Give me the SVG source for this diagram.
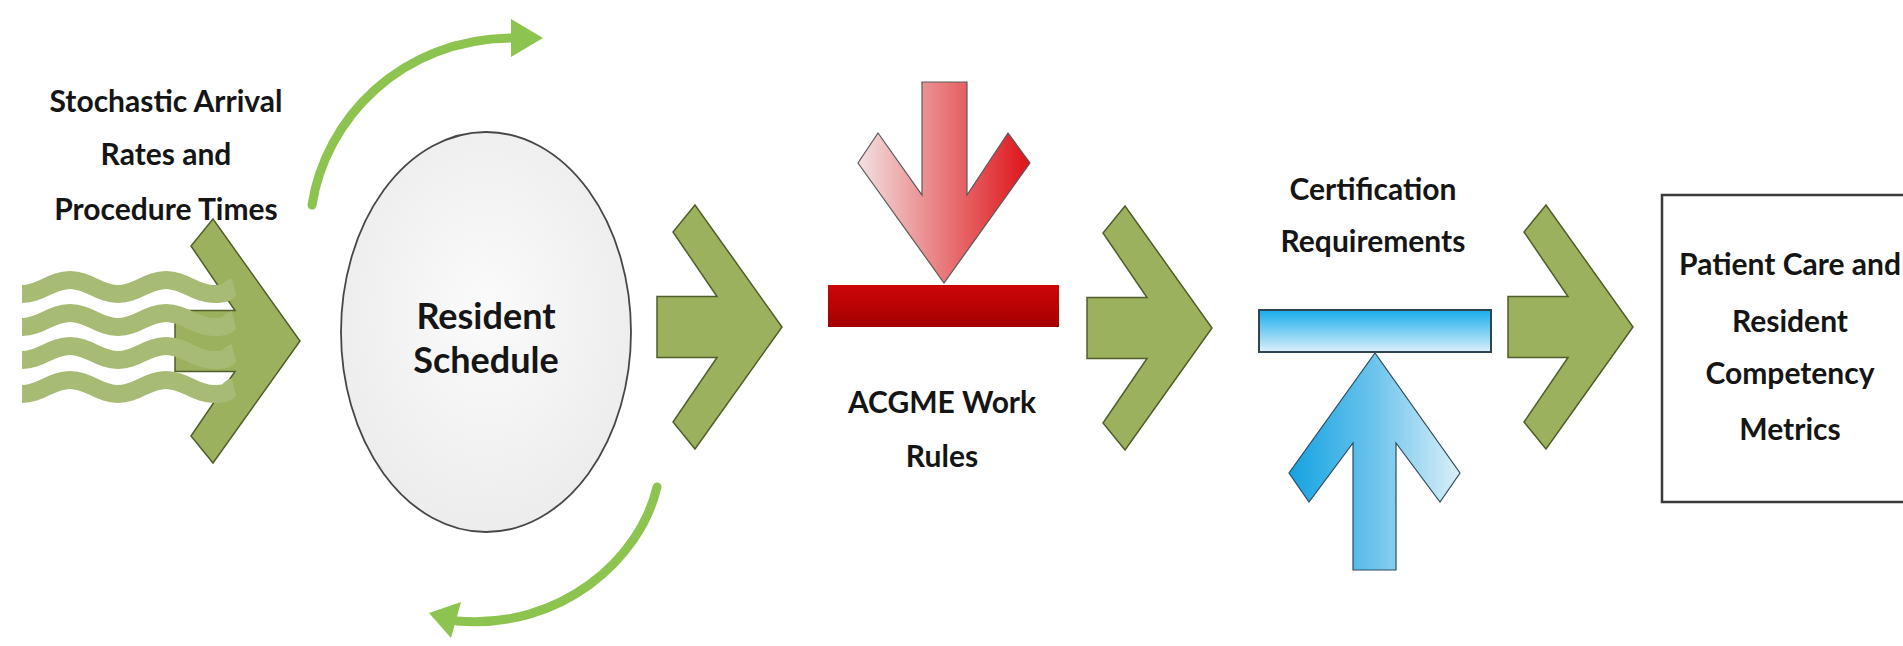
<svg xmlns="http://www.w3.org/2000/svg" xmlns:xlink="http://www.w3.org/1999/xlink" width="1903" height="646" viewBox="0 0 1903 646">
  <style>
    .lbl { font-family: Lato, "Liberation Sans", sans-serif; font-weight: 700; font-size: 30px; fill: #151515; text-anchor: middle; }
    .big { font-size: 36px; }
    .chev { fill: #9cb15d; stroke: #4f5e2a; stroke-width: 1.5; }
    .wave { fill: none; stroke: #a8bb74; stroke-width: 18; }
    .cyc { fill: none; stroke: #8dc34f; stroke-width: 9; stroke-linecap: round; }
    .cych { fill: #8dc34f; }
  </style>
  <defs>
    <!-- notched right arrow, tip at origin -->
    <path id="chevron" d="M-125,-30.5 L-65,-30.5 L-109,-95 L-87,-122 L0,0 L-87,122 L-109,95 L-65,30.5 L-125,30.5 Z"/>
    <radialGradient id="discFill" cx="0.5" cy="0.45" r="0.6">
      <stop offset="0" stop-color="#fbfbfb"/>
      <stop offset="1" stop-color="#ebebeb"/>
    </radialGradient>
    <linearGradient id="redArrowFill" x1="858" y1="0" x2="1030" y2="0" gradientUnits="userSpaceOnUse">
      <stop offset="0" stop-color="#f3e1e1"/>
      <stop offset="0.5" stop-color="#e8797b"/>
      <stop offset="1" stop-color="#de1218"/>
    </linearGradient>
    <linearGradient id="redBarFill" x1="0" y1="0" x2="0" y2="1">
      <stop offset="0" stop-color="#cc0608"/>
      <stop offset="1" stop-color="#a50000"/>
    </linearGradient>
    <linearGradient id="blueArrowFill" x1="1289" y1="0" x2="1460" y2="0" gradientUnits="userSpaceOnUse">
      <stop offset="0" stop-color="#14a2e2"/>
      <stop offset="0.5" stop-color="#6cc4ec"/>
      <stop offset="1" stop-color="#dbeff8"/>
    </linearGradient>
    <linearGradient id="blueBarFill" x1="0" y1="0" x2="0" y2="1">
      <stop offset="0" stop-color="#17aceb"/>
      <stop offset="1" stop-color="#dcf0f9"/>
    </linearGradient>
  </defs>

  <rect x="0" y="0" width="1903" height="646" fill="#ffffff"/>

  <!-- input: stochastic arrivals -->
  <g id="arrivals">
    <text class="lbl" x="166" y="112">Stochastic Arrival</text>
    <text class="lbl" x="166" y="165">Rates and</text>
    <text class="lbl" x="166" y="220">Procedure Times</text>
  </g>

  <!-- central schedule disc -->
  <g id="schedule">
    <ellipse cx="486" cy="332" rx="145" ry="200" fill="url(#discFill)" stroke="#474747" stroke-width="1.8"/>
    <text class="lbl big" x="486" y="329">Resident</text>
    <text class="lbl big" x="486" y="373">Schedule</text>
  </g>

  <!-- work-rule constraint pressing down -->
  <g id="acgme">
    <polygon points="922,82 967,82 967,195 1008,133 1030,163 944,283 858,163 878,133 922,195" fill="url(#redArrowFill)" stroke="#5a5a5a" stroke-width="1.2"/>
    <rect x="828" y="285" width="231" height="42" fill="url(#redBarFill)"/>
    <text class="lbl" x="942" y="413">ACGME Work</text>
    <text class="lbl" x="942" y="467">Rules</text>
  </g>

  <!-- certification constraint pushing up -->
  <g id="certification">
    <text class="lbl" x="1373" y="200">Certification</text>
    <text class="lbl" x="1373" y="252">Requirements</text>
    <rect x="1259" y="310" width="232" height="42" fill="url(#blueBarFill)" stroke="#2f4652" stroke-width="2"/>
    <polygon points="1353,570 1396,570 1396,443 1440,502 1460,473 1375,353 1289,473 1309,502 1353,443" fill="url(#blueArrowFill)" stroke="#2b4c5e" stroke-width="1.2"/>
  </g>

  <!-- outcome box -->
  <g id="outcomes">
    <rect x="1662" y="195" width="262" height="307" fill="#ffffff" stroke="#3a3a3a" stroke-width="2.5"/>
    <text class="lbl" x="1790" y="275">Patient Care and</text>
    <text class="lbl" x="1790" y="332">Resident</text>
    <text class="lbl" x="1790" y="384">Competency</text>
    <text class="lbl" x="1790" y="440">Metrics</text>
  </g>

  <!-- connectors -->
  <g id="connectors">
    <use xlink:href="#chevron" href="#chevron" class="chev" transform="translate(300,341)"/>
    <g id="waves">
      <path class="wave" d="M22,294 C41,294 51,280 70,280 S99,294 118,294 S147,280 166,280 S195,294 214,294 S226,289 234,287"/>
      <path class="wave" d="M22,327 C41,327 51,313 70,313 S99,327 118,327 S147,313 166,313 S195,327 214,327 S226,322 234,320"/>
      <path class="wave" d="M22,360 C41,360 51,346 70,346 S99,360 118,360 S147,346 166,346 S195,360 214,360 S226,355 234,353"/>
      <path class="wave" d="M22,394 C41,394 51,380 70,380 S99,394 118,394 S147,380 166,380 S195,394 214,394 S226,389 234,387"/>
    </g>
    <use xlink:href="#chevron" href="#chevron" class="chev" transform="translate(782,327)"/>
    <use xlink:href="#chevron" href="#chevron" class="chev" transform="translate(1212,328)"/>
    <use xlink:href="#chevron" href="#chevron" class="chev" transform="translate(1633,327)"/>
    <!-- cycle arrows around the schedule -->
    <path class="cyc" d="M312,205 C325,120 400,38 514,38"/>
    <polygon class="cych" points="511,19 543,38 511,57"/>
    <path class="cyc" d="M657,487 C640,560 560,630 457,621"/>
    <polygon class="cych" points="461,602 429,613 451,638"/>
  </g>
</svg>
